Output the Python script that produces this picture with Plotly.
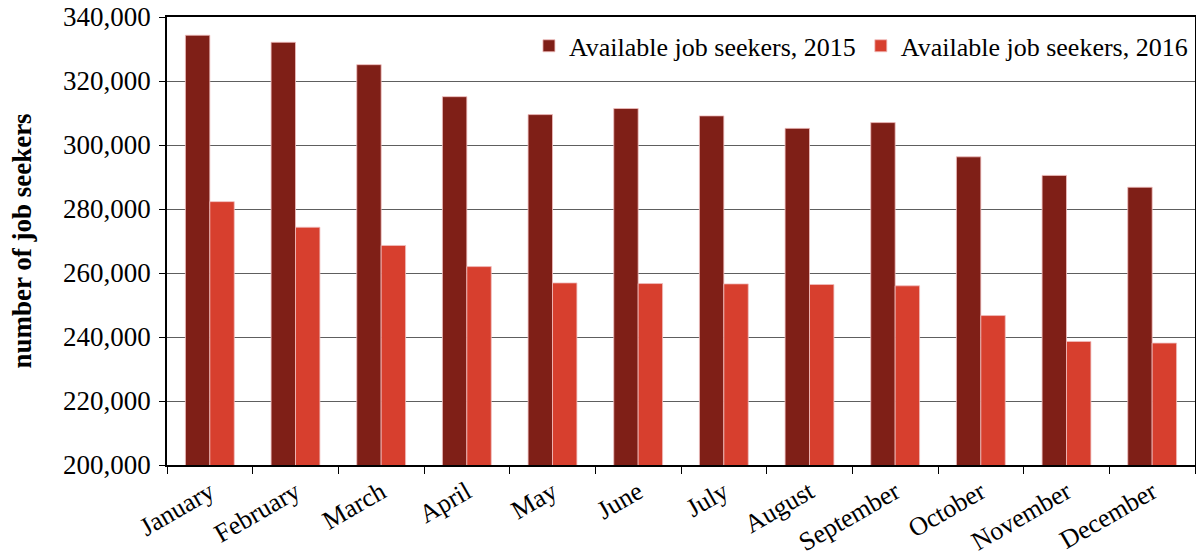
import plotly.graph_objects as go

months = ["January", "February", "March", "April", "May", "June", "July",
          "August", "September", "October", "November", "December"]
seekers_2015 = [334300, 332100, 325100, 315100, 309500, 311400, 309100,
                305200, 307000, 296300, 290500, 286800]
seekers_2016 = [282300, 274300, 268600, 262000, 256900, 256700, 256600,
                256400, 256000, 246700, 238600, 238100]
y_ticks = [200000, 220000, 240000, 260000, 280000, 300000, 320000, 340000]

FONT = "Liberation Serif"
FS = 26

fig = go.Figure()
fig.add_trace(go.Bar(x=months, y=seekers_2015, name="Available job seekers, 2015",
                     marker=dict(color="#7F1F17", line=dict(color="rgba(240,190,190,0.8)", width=1))))
fig.add_trace(go.Bar(x=months, y=seekers_2016, name="Available job seekers, 2016",
                     marker=dict(color="#D73F2E", line=dict(color="rgba(240,190,190,0.8)", width=1))))

fig.update_layout(
    width=1196, height=556,
    margin=dict(l=167, r=1, t=17, b=91, pad=0, autoexpand=False),
    paper_bgcolor="white", plot_bgcolor="white",
    barmode="group", bargap=0.43, bargroupgap=0,
    font=dict(family=FONT, size=FS, color="black"),
    legend=dict(orientation="h", x=0.998, xanchor="right", y=0.988, yanchor="top",
                font=dict(family=FONT, size=FS), bgcolor="rgba(0,0,0,0)",
                traceorder="normal", tracegroupgap=0),
    showlegend=True,
)
fig.update_yaxes(range=[200000, 340000], tickvals=y_ticks, tickformat=",",
                 automargin=False,
                 showgrid=True, gridcolor="#5e5e5e", gridwidth=1.2,
                 showline=True, linecolor="black", linewidth=1.5, mirror=True,
                 ticks="outside", ticklen=6, tickcolor="black",
                 ticklabeloverflow="allow", ticklabelstandoff=3,
                 tickfont=dict(family=FONT, size=27),
                 title=dict(text="<b>number of job seekers</b>", standoff=24,
                            font=dict(family=FONT, size=27)),
                 zeroline=False)
fig.update_xaxes(tickangle=-30, tickson="boundaries", ticks="outside", ticklen=7,
                 automargin=False,
                 tickcolor="black", showline=True, linecolor="black", linewidth=1.5,
                 mirror=True, tickfont=dict(family=FONT, size=FS))

# remove the browser's default 8px body margin so the figure sits at the page origin
fig.write_html("out.html", config={"displayModeBar": False},
               post_script="document.body.style.margin='0';")
